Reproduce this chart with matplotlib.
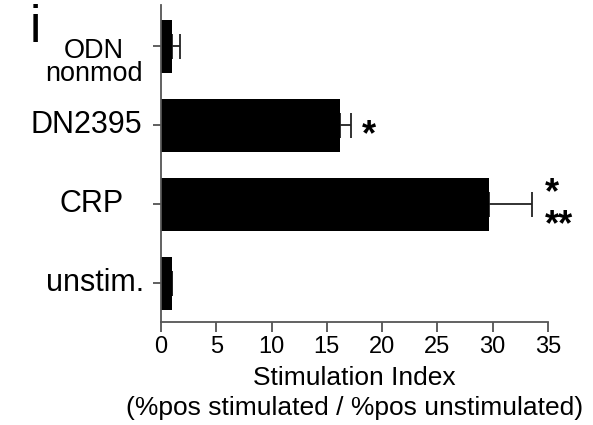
import matplotlib
matplotlib.use("Agg")
import matplotlib.pyplot as plt
from matplotlib.transforms import blended_transform_factory

categories = ["unstim.", "CRP", "DN2395", "ODN\nnonmod"]
values = [1.0, 29.7, 16.2, 1.0]
errors = [0.0, 3.9, 1.0, 0.7]
xticks = [0, 5, 10, 15, 20, 25, 30, 35]

plt.rcParams['font.family'] = ['Liberation Sans', 'DejaVu Sans']

fig = plt.figure(figsize=(5.93, 4.25), dpi=100)
ax = fig.add_axes([0.2715, 0.2424, 0.924 - 0.2715, 0.988 - 0.2424])

ypos = list(range(len(categories)))
ax.barh(ypos, values, height=0.67, color='black', zorder=2)
ax.errorbar(values, ypos, xerr=[[0]*len(errors), errors], fmt='none',
            ecolor='#222222', elinewidth=1.3, capsize=9, capthick=1.3, zorder=1)

ax.set_xlim(0, 35)
ax.set_ylim(-0.49, 3.52)
ax.set_xticks(xticks)
ax.set_xticklabels([str(t) for t in xticks], fontsize=17)
ax.set_yticks(ypos)
ax.set_yticklabels([])
ax.tick_params(axis='x', length=7, width=1.2, color='#444444', pad=3)
ax.tick_params(axis='y', length=6, width=1.2, color='#444444')
ax.spines['top'].set_visible(False)
ax.spines['right'].set_visible(False)
for s in ['left', 'bottom']:
    ax.spines[s].set_color('#555555')
    ax.spines[s].set_linewidth(1.3)

# category labels (x in pixels left of the axis, converted to axes fraction)
trans = blended_transform_factory(ax.transAxes, ax.transData)
axw = 387.0
label_centers_px = [95, 92, 86, 94]
label_sizes = [22, 22, 22, 19.5]
for y, lab, cx, fs in zip(ypos, categories, label_centers_px, label_sizes):
    if "\n" in lab:
        ax.text((cx - 161) / axw, y + 0.10, lab, transform=trans, ha='center',
                va='top', fontsize=fs, linespacing=0.82, multialignment='center')
    else:
        ax.text((cx - 161) / axw, y, lab, transform=trans, ha='center',
                va='center', fontsize=fs)

ax.set_xlabel("Stimulation Index\n(%pos stimulated / %pos unstimulated)", fontsize=19,
              linespacing=1.3, labelpad=6)

# significance marks
ax.text(values[2] + errors[2] + 1.0, 1.87, "*", fontsize=26, va='center', ha='left',
        fontweight='bold')
ax.text(values[1] + errors[1] + 1.1, 0.93, "*\n**", fontsize=26, va='center', ha='left',
        multialignment='left', linespacing=0.88, fontweight='bold')

fig.text(0.05, 1 - 42 / 425, "i", fontsize=37, ha='left', va='baseline')

fig.savefig("out.png", dpi=100)
